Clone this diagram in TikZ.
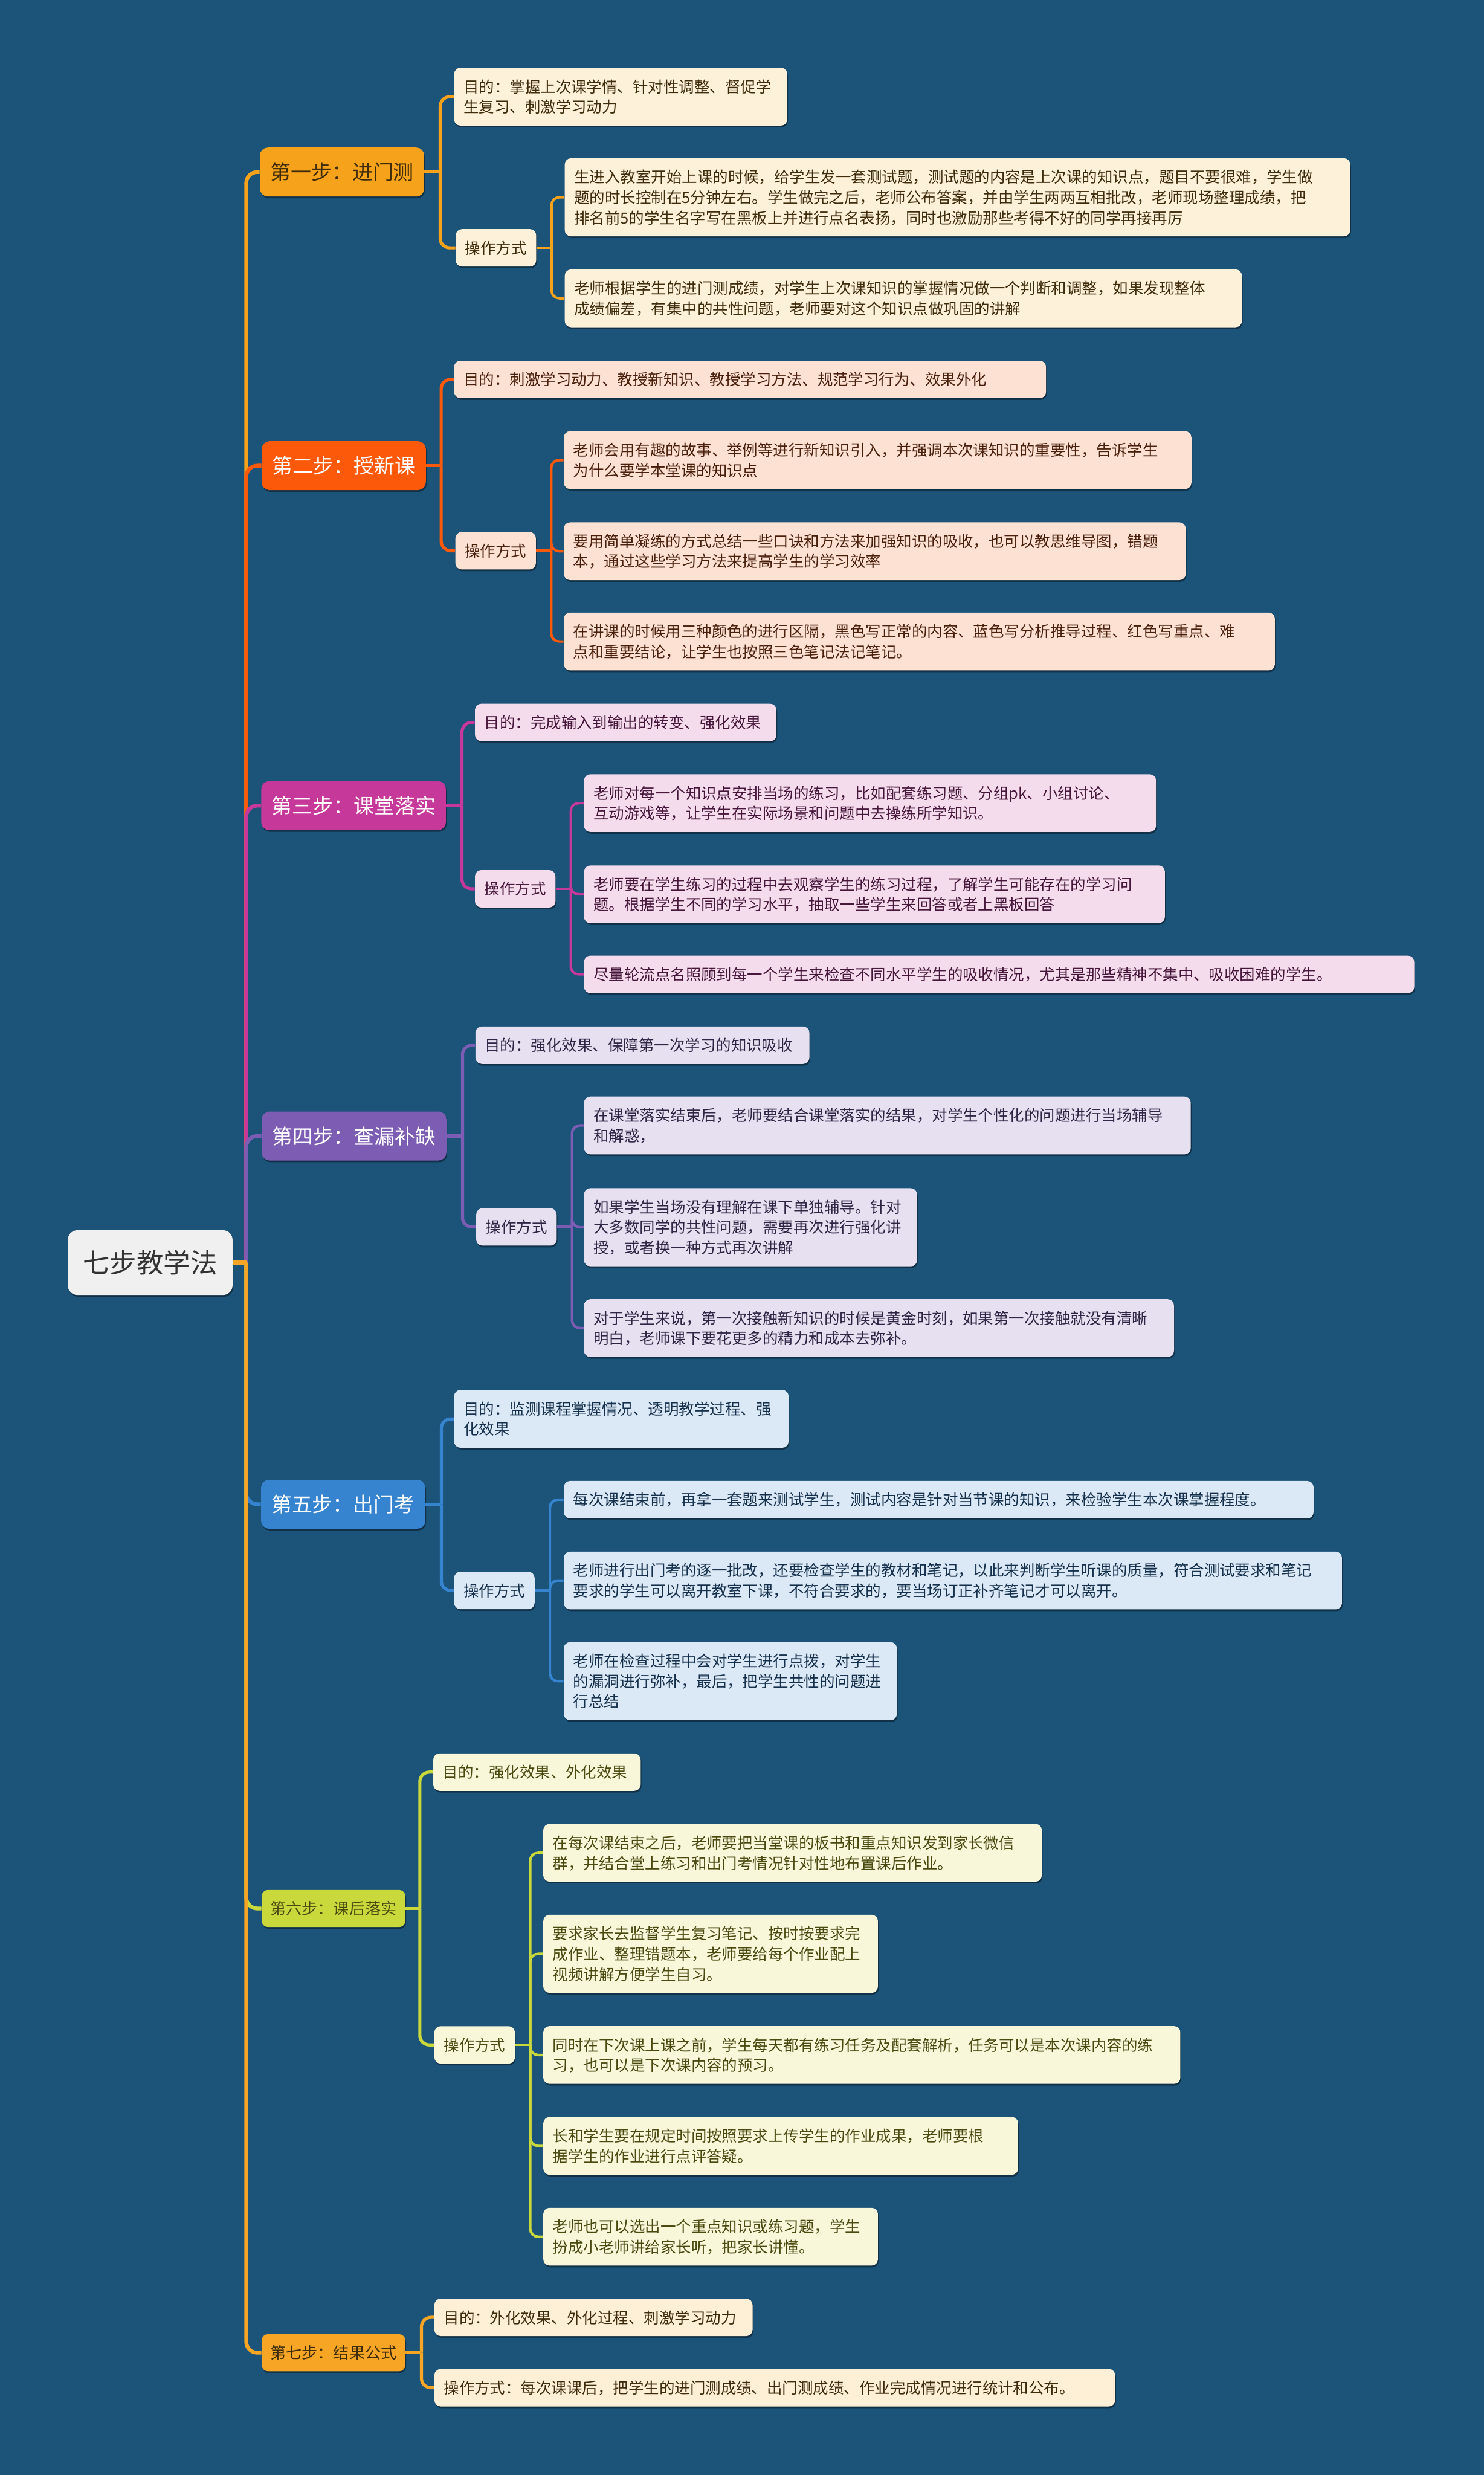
\documentclass[tikz,border=0pt]{standalone}
\usepackage{fontspec}
\setmainfont{Noto Sans CJK SC}
\usepackage{tikz}
\usetikzlibrary{calc,shadows}

\definecolor{bg}{HTML}{1B5379}
\definecolor{c1}{HTML}{F7A21B}
\definecolor{c2}{HTML}{FC5A0A}
\definecolor{c3}{HTML}{C7389B}
\definecolor{c4}{HTML}{7D5CB4}
\definecolor{c5}{HTML}{3683D0}
\definecolor{c6}{HTML}{C9D93C}
\definecolor{c7}{HTML}{F6A524}
\definecolor{l1}{HTML}{FEF1D9}
\definecolor{l2}{HTML}{FDE1D2}
\definecolor{l3}{HTML}{F5DCEC}
\definecolor{l4}{HTML}{E6E0F1}
\definecolor{l5}{HTML}{DBE8F5}
\definecolor{l6}{HTML}{F8F7DA}
\definecolor{l7}{HTML}{FEF0D7}
\definecolor{t1}{HTML}{3F2C0C}
\definecolor{t2}{HTML}{4A200C}
\definecolor{t3}{HTML}{46163B}
\definecolor{t4}{HTML}{2F2645}
\definecolor{t5}{HTML}{14304C}
\definecolor{t6}{HTML}{4A4A10}
\definecolor{rootfill}{HTML}{F0F0F0}
\definecolor{roottext}{HTML}{333333}

\newcommand\lfstrut{\rule[-2.65pt]{0pt}{12.9pt}}

\begin{document}
\begin{tikzpicture}[x=1pt, y=-1pt,
  shade/.style={drop shadow={shadow xshift=0.5pt, shadow yshift=-1.1pt, opacity=0.4, fill=black}},
  box/.style={shade, rounded corners=4pt, inner xsep=6pt, inner ysep=5.4pt, anchor=west, align=left,
    font=\fontsize{9.75}{12.9}\selectfont, execute at begin node=\lfstrut, execute at end node=\lfstrut},
  stepbox/.style={shade, rounded corners=5pt, inner xsep=6.5pt, minimum height=31pt, anchor=west,
    font=\fontsize{13}{15}\selectfont},
  smallstep/.style={shade, rounded corners=4pt, inner xsep=5.5pt, minimum height=23.5pt, anchor=west,
    font=\fontsize{10}{12}\selectfont},
  trunk/.style={line width=2.4pt, rounded corners=7pt},
  sub/.style={line width=2pt, rounded corners=6pt},
  twig/.style={line width=1.6pt, rounded corners=5pt}]
\useasboundingbox (0,0) rectangle (940,1568);
\fill[bg] (0,0) rectangle (940,1568);
% root
\node[shade, rounded corners=6pt, fill=rootfill, text=roottext, anchor=west, minimum width=104.3pt, minimum height=41pt, font=\fontsize{17}{20}\selectfont] (root) at (42.8,799.9) {七步教学法};
\coordinate (J) at (156,799.9);
% step 1
\node[stepbox, fill=c1, text=t1] (s1) at (164.5,109) {第一步：进门测};
\node[box, fill=l1, text=t1, text width=199pt] (s1aim) at (287.5,61.3) {目的：掌握上次课学情、针对性调整、督促学\\生复习、刺激学习动力};
\node[box, fill=l1, text=t1] (s1op) at (288.5,157) {操作方式};
\node[box, fill=l1, text=t1, text width=485.6pt] (s1a) at (357.6,125) {生进入教室开始上课的时候，给学生发一套测试题，测试题的内容是上次课的知识点，题目不要很难，学生做\\题的时长控制在5分钟左右。学生做完之后，老师公布答案，并由学生两两互相批改，老师现场整理成绩，把\\排名前5的学生名字写在黑板上并进行点名表扬，同时也激励那些考得不好的同学再接再厉};
\node[box, fill=l1, text=t1, text width=417pt] (s1b) at (357.6,189) {老师根据学生的进门测成绩，对学生上次课知识的掌握情况做一个判断和调整，如果发现整体\\成绩偏差，有集中的共性问题，老师要对这个知识点做巩固的讲解};
% step 2
\node[stepbox, fill=c2, text=white] (s2) at (165.6,295) {第二步：授新课};
\node[box, fill=l2, text=t2, text width=363pt] (s2aim) at (287.5,240.4) {目的：刺激学习动力、教授新知识、教授学习方法、规范学习行为、效果外化};
\node[box, fill=l2, text=t2] (s2op) at (288.3,348.9) {操作方式};
\node[box, fill=l2, text=t2, text width=385.6pt] (s2a) at (357,291.5) {老师会用有趣的故事、举例等进行新知识引入，并强调本次课知识的重要性，告诉学生\\为什么要学本堂课的知识点};
\node[box, fill=l2, text=t2, text width=382pt] (s2b) at (357,349.2) {要用简单凝练的方式总结一些口诀和方法来加强知识的吸收，也可以教思维导图，错题\\本，通过这些学习方法来提高学生的学习效率};
\node[box, fill=l2, text=t2, text width=438.5pt] (s2c) at (357,406.4) {在讲课的时候用三种颜色的进行区隔，黑色写正常的内容、蓝色写分析推导过程、红色写重点、难\\点和重要结论，让学生也按照三色笔记法记笔记。};
% step 3
\node[stepbox, fill=c3, text=white] (s3) at (165.3,510.4) {第三步：课堂落实};
\node[box, fill=l3, text=t3, text width=179pt] (s3aim) at (300.7,457.7) {目的：完成输入到输出的转变、强化效果};
\node[box, fill=l3, text=t3] (s3op) at (300.7,563.1) {操作方式};
\node[box, fill=l3, text=t3, text width=350.4pt] (s3a) at (369.8,508.8) {老师对每一个知识点安排当场的练习，比如配套练习题、分组pk、小组讨论、\\互动游戏等，让学生在实际场景和问题中去操练所学知识。};
\node[box, fill=l3, text=t3, text width=356pt] (s3b) at (369.8,566.6) {老师要在学生练习的过程中去观察学生的练习过程，了解学生可能存在的学习问\\题。根据学生不同的学习水平，抽取一些学生来回答或者上黑板回答};
\node[box, fill=l3, text=t3, text width=514pt] (s3c) at (369.8,617.3) {尽量轮流点名照顾到每一个学生来检查不同水平学生的吸收情况，尤其是那些精神不集中、吸收困难的学生。};
% step 4
\node[stepbox, fill=c4, text=white] (s4) at (165.6,719.7) {第四步：查漏补缺};
\node[box, fill=l4, text=t4, text width=199.6pt] (s4aim) at (301,662.2) {目的：强化效果、保障第一次学习的知识吸收};
\node[box, fill=l4, text=t4] (s4op) at (301.5,777.3) {操作方式};
\node[box, fill=l4, text=t4, text width=372.4pt] (s4a) at (369.8,713) {在课堂落实结束后，老师要结合课堂落实的结果，对学生个性化的问题进行当场辅导\\和解惑，};
\node[box, fill=l4, text=t4, text width=199pt] (s4b) at (369.8,777.5) {如果学生当场没有理解在课下单独辅导。针对\\大多数同学的共性问题，需要再次进行强化讲\\授，或者换一种方式再次讲解};
\node[box, fill=l4, text=t4, text width=361.8pt] (s4c) at (369.8,841.4) {对于学生来说，第一次接触新知识的时候是黄金时刻，如果第一次接触就没有清晰\\明白，老师课下要花更多的精力和成本去弥补。};
% step 5
\node[stepbox, fill=c5, text=white] (s5) at (165.2,953) {第五步：出门考};
\node[box, fill=l5, text=t5, text width=199.9pt] (s5aim) at (287.5,898.9) {目的：监测课程掌握情况、透明教学过程、强\\化效果};
\node[box, fill=l5, text=t5] (s5op) at (287.5,1007.6) {操作方式};
\node[box, fill=l5, text=t5, text width=463pt] (s5a) at (357,950.1) {每次课结束前，再拿一套题来测试学生，测试内容是针对当节课的知识，来检验学生本次课掌握程度。};
\node[box, fill=l5, text=t5, text width=481pt] (s5b) at (357,1001.3) {老师进行出门考的逐一批改，还要检查学生的教材和笔记，以此来判断学生听课的质量，符合测试要求和笔记\\要求的学生可以离开教室下课，不符合要求的，要当场订正补齐笔记才可以离开。};
\node[box, fill=l5, text=t5, text width=199pt] (s5c) at (357,1065.1) {老师在检查过程中会对学生进行点拨，对学生\\的漏洞进行弥补，最后，把学生共性的问题进\\行总结};
% step 6
\node[smallstep, fill=c6, text=t6] (s6) at (165.6,1209.1) {第六步：课后落实};
\node[box, fill=l6, text=t6, text width=119.4pt] (s6aim) at (274.3,1122.7) {目的：强化效果、外化效果};
\node[box, fill=l6, text=t6] (s6op) at (275,1295.5) {操作方式};
\node[box, fill=l6, text=t6, text width=303.8pt] (s6a) at (344,1173.8) {在每次课结束之后，老师要把当堂课的板书和重点知识发到家长微信\\群，并结合堂上练习和出门考情况针对性地布置课后作业。};
\node[box, fill=l6, text=t6, text width=200pt] (s6b) at (344,1237.8) {要求家长去监督学生复习笔记、按时按要求完\\成作业、整理错题本，老师要给每个作业配上\\视频讲解方便学生自习。};
\node[box, fill=l6, text=t6, text width=391.6pt] (s6c) at (344,1301.9) {同时在下次课上课之前，学生每天都有练习任务及配套解析，任务可以是本次课内容的练\\习，也可以是下次课内容的预习。};
\node[box, fill=l6, text=t6, text width=288.8pt] (s6d) at (344,1359.5) {长和学生要在规定时间按照要求上传学生的作业成果，老师要根\\据学生的作业进行点评答疑。};
\node[box, fill=l6, text=t6, text width=200pt] (s6e) at (344,1417) {老师也可以选出一个重点知识或练习题，学生\\扮成小老师讲给家长听，把家长讲懂。};
% step 7
\node[smallstep, fill=c7, text=t1] (s7) at (165.6,1490.5) {第七步：结果公式};
\node[box, fill=l7, text=t1, text width=189.6pt] (s7aim) at (275,1468.1) {目的：外化效果、外化过程、刺激学习动力};
\node[box, fill=l7, text=t1, text width=419.3pt] (s7op) at (275,1512.7) {操作方式：每次课课后，把学生的进门测成绩、出门测成绩、作业完成情况进行统计和公布。};
% trunk
\draw[trunk, c1] (J) |- (s1.west);
\draw[trunk, c2] (J) |- (s2.west);
\draw[trunk, c3] (J) |- (s3.west);
\draw[trunk, c4] (J) |- (s4.west);
\draw[trunk, c5] (J) |- (s5.west);
\draw[trunk, c6] (J) |- (s6.west);
\draw[trunk, c7] (J) |- (s7.west);
\draw[trunk, c7] (root.east) -- (J);
% branches of step 1
\coordinate (s1j) at ($(s1.east)+(10,0)$);
\draw[sub, c1] (s1.east) -- (s1j);
\draw[sub, c1] (s1j) |- (s1aim.west);
\draw[sub, c1] (s1j) |- (s1op.west);
\coordinate (s1k) at ($(s1op.east)+(9.5,0)$);
\draw[twig, c1] (s1op.east) -- (s1k);
\draw[twig, c1] (s1k) |- (s1a.west);
\draw[twig, c1] (s1k) |- (s1b.west);
% branches of step 2
\coordinate (s2j) at ($(s2.east)+(9.5,0)$);
\draw[sub, c2] (s2.east) -- (s2j);
\draw[sub, c2] (s2j) |- (s2aim.west);
\draw[sub, c2] (s2j) |- (s2op.west);
\coordinate (s2k) at ($(s2op.east)+(9.5,0)$);
\draw[twig, c2] (s2op.east) -- (s2k);
\draw[twig, c2] (s2k) |- (s2a.west);
\draw[twig, c2] (s2k) |- (s2b.west);
\draw[twig, c2] (s2k) |- (s2c.west);
% branches of step 3
\coordinate (s3j) at ($(s3.east)+(10,0)$);
\draw[sub, c3] (s3.east) -- (s3j);
\draw[sub, c3] (s3j) |- (s3aim.west);
\draw[sub, c3] (s3j) |- (s3op.west);
\coordinate (s3k) at ($(s3op.east)+(9.5,0)$);
\draw[twig, c3] (s3op.east) -- (s3k);
\draw[twig, c3] (s3k) |- (s3a.west);
\draw[twig, c3] (s3k) |- (s3b.west);
\draw[twig, c3] (s3k) |- (s3c.west);
% branches of step 4
\coordinate (s4j) at ($(s4.east)+(10,0)$);
\draw[sub, c4] (s4.east) -- (s4j);
\draw[sub, c4] (s4j) |- (s4aim.west);
\draw[sub, c4] (s4j) |- (s4op.west);
\coordinate (s4k) at ($(s4op.east)+(9.5,0)$);
\draw[twig, c4] (s4op.east) -- (s4k);
\draw[twig, c4] (s4k) |- (s4a.west);
\draw[twig, c4] (s4k) |- (s4b.west);
\draw[twig, c4] (s4k) |- (s4c.west);
% branches of step 5
\coordinate (s5j) at ($(s5.east)+(10,0)$);
\draw[sub, c5] (s5.east) -- (s5j);
\draw[sub, c5] (s5j) |- (s5aim.west);
\draw[sub, c5] (s5j) |- (s5op.west);
\coordinate (s5k) at ($(s5op.east)+(9.5,0)$);
\draw[twig, c5] (s5op.east) -- (s5k);
\draw[twig, c5] (s5k) |- (s5a.west);
\draw[twig, c5] (s5k) |- (s5b.west);
\draw[twig, c5] (s5k) |- (s5c.west);
% branches of step 6
\coordinate (s6j) at ($(s6.east)+(9,0)$);
\draw[sub, c6] (s6.east) -- (s6j);
\draw[sub, c6] (s6j) |- (s6aim.west);
\draw[sub, c6] (s6j) |- (s6op.west);
\coordinate (s6k) at ($(s6op.east)+(9.5,0)$);
\draw[twig, c6] (s6op.east) -- (s6k);
\draw[twig, c6] (s6k) |- (s6a.west);
\draw[twig, c6] (s6k) |- (s6b.west);
\draw[twig, c6] (s6k) |- (s6c.west);
\draw[twig, c6] (s6k) |- (s6d.west);
\draw[twig, c6] (s6k) |- (s6e.west);
% branches of step 7
\coordinate (s7j) at ($(s7.east)+(10,0)$);
\draw[sub, c7] (s7.east) -- (s7j);
\draw[sub, c7] (s7j) |- (s7aim.west);
\draw[sub, c7] (s7j) |- (s7op.west);
\end{tikzpicture}
\end{document}
